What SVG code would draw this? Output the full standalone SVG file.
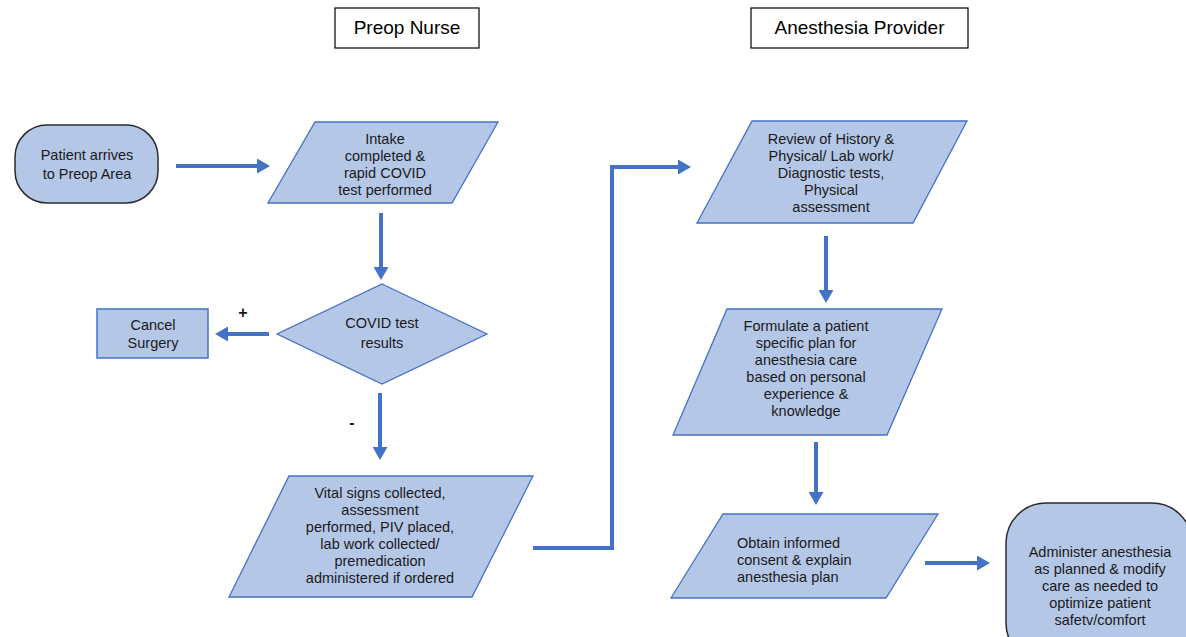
<svg xmlns="http://www.w3.org/2000/svg" width="1186" height="637" viewBox="0 0 1186 637">
<style>
text{font-family:"Liberation Sans",Arial,sans-serif;fill:#1a1a1a;}
.t{font-size:14.5px;text-anchor:middle;}
.tl{font-size:14.5px;}
.title{font-size:19px;text-anchor:middle;fill:#000;}
.hdr{fill:#fff;stroke:#000;stroke-width:1.2;}
.para{fill:#b4c7e7;stroke:#4472c4;stroke-width:1.3;}
.term{fill:#b4c7e7;stroke:#2b2b2b;stroke-width:1.5;}
.proc{fill:#b4c7e7;stroke:#4472c4;stroke-width:1.5;}
.c{fill:none;stroke:#4472c4;stroke-width:4;}
</style>
<defs>
<marker id="ah" markerUnits="userSpaceOnUse" markerWidth="14" markerHeight="15" refX="0" refY="7.5" orient="auto">
<path d="M0,0 L13,7.5 L0,15 z" fill="#4472c4"/>
</marker>
</defs>
<rect width="1186" height="637" fill="#fff"/>
<g id="hdr-nurse">
<rect class="hdr" x="335" y="8" width="144" height="40"/>
<text class="title" x="407" y="34">Preop Nurse</text>
</g>
<g id="hdr-anes">
<rect class="hdr" x="751" y="8" width="217" height="40"/>
<text class="title" x="859.5" y="34">Anesthesia Provider</text>
</g>
<g id="connectors">
<line class="c" x1="176" y1="166" x2="257" y2="166" marker-end="url(#ah)"/>
<line class="c" x1="381" y1="213" x2="381" y2="267" marker-end="url(#ah)"/>
<line class="c" x1="269" y1="334" x2="228" y2="334" marker-end="url(#ah)"/>
<line class="c" x1="380" y1="393" x2="380" y2="447" marker-end="url(#ah)"/>
<polyline class="c" points="533,548 612,548 612,167 678,167" marker-end="url(#ah)"/>
<line class="c" x1="826" y1="236" x2="826" y2="290" marker-end="url(#ah)"/>
<line class="c" x1="816" y1="442" x2="816" y2="492" marker-end="url(#ah)"/>
<line class="c" x1="925" y1="563" x2="977" y2="563" marker-end="url(#ah)"/>
</g>
<g id="lbl-plus"><text x="243" y="318" style="font-size:16px;text-anchor:middle;font-weight:bold">+</text></g>
<g id="lbl-minus"><text x="352" y="428" style="font-size:16px;text-anchor:middle;font-weight:bold">-</text></g>
<g id="n-arrive">
<rect class="term" x="15" y="125" width="143" height="78" rx="32" ry="32"/>
<text class="t" x="87" y="160">Patient arrives<tspan x="87" dy="19">to Preop Area</tspan></text>
</g>
<g id="n-intake">
<polygon class="para" points="315,122 498,122 452,203 268,203"/>
<text class="t" x="385" y="144">Intake<tspan x="385" dy="17">completed &amp;</tspan><tspan x="385" dy="17">rapid COVID</tspan><tspan x="385" dy="17">test performed</tspan></text>
</g>
<g id="n-covid">
<polygon class="para" points="382,284 487,334 382,384 277,334"/>
<text class="t" x="382" y="328">COVID test<tspan x="382" dy="20">results</tspan></text>
</g>
<g id="n-cancel">
<rect class="proc" x="97" y="309" width="111" height="49"/>
<text class="t" x="153" y="330">Cancel<tspan x="153" dy="18">Surgery</tspan></text>
</g>
<g id="n-vital">
<polygon class="para" points="289,476 533,476 472,597 229,597"/>
<text class="t" x="380" y="498">Vital signs collected,<tspan x="380" dy="17">assessment</tspan><tspan x="380" dy="17">performed, PIV placed,</tspan><tspan x="380" dy="17">lab work collected/</tspan><tspan x="380" dy="17">premedication</tspan><tspan x="380" dy="17">administered if ordered</tspan></text>
</g>
<g id="n-review">
<polygon class="para" points="752,121 967,121 913,223 697,223"/>
<text class="t" x="831" y="144">Review of History &amp;<tspan x="831" dy="17">Physical/ Lab work/</tspan><tspan x="831" dy="17">Diagnostic tests,</tspan><tspan x="831" dy="17">Physical</tspan><tspan x="831" dy="17">assessment</tspan></text>
</g>
<g id="n-formulate">
<polygon class="para" points="727,309 942,309 887,435 673,435"/>
<text class="t" x="806" y="331">Formulate a patient<tspan x="806" dy="17">specific plan for</tspan><tspan x="806" dy="17">anesthesia care</tspan><tspan x="806" dy="17">based on personal</tspan><tspan x="806" dy="17">experience &amp;</tspan><tspan x="806" dy="17">knowledge</tspan></text>
</g>
<g id="n-obtain">
<polygon class="para" points="723,514 938,514 886,598 671,598"/>
<text class="tl" x="737" y="548">Obtain informed<tspan x="737" dy="17">consent &amp; explain</tspan><tspan x="737" dy="17">anesthesia plan</tspan></text>
</g>
<g id="n-admin">
<rect class="term" x="1006" y="503" width="186" height="160" rx="40" ry="40"/>
<text class="t" x="1100" y="557">Administer anesthesia<tspan x="1100" dy="17">as planned &amp; modify</tspan><tspan x="1100" dy="17">care as needed to</tspan><tspan x="1100" dy="17">optimize patient</tspan><tspan x="1100" dy="17">safetv/comfort</tspan></text>
</g>
</svg>
